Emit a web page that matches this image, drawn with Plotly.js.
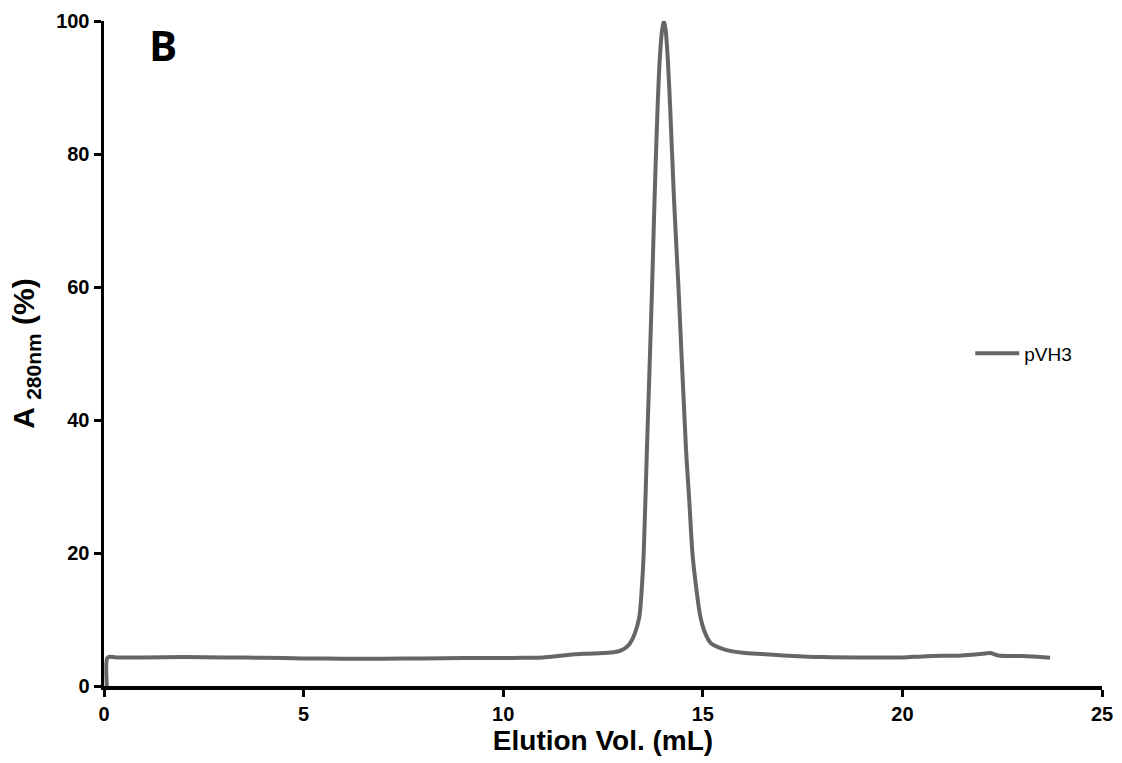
<!DOCTYPE html>
<html>
<head>
<meta charset="utf-8">
<script src="https://cdn.plot.ly/plotly-3.0.1.min.js"></script>
<style>html,body{margin:0;padding:0;background:#fff;}#chart{width:1122px;height:763px;}</style>
</head>
<body>
<div id="chart"></div>
<script>
const seriesName = "pVH3";
const elutionVol = [0.07, 0.08, 0.15, 0.3, 1, 2, 3, 4, 5, 6, 7, 8, 9, 10, 10.5, 11, 11.5, 12, 12.5, 12.8, 12.97, 13.1, 13.18, 13.3, 13.41, 13.48, 13.52, 13.60, 13.73, 13.79, 13.865, 13.92, 13.98, 14.025, 14.07, 14.125, 14.185, 14.28, 14.39, 14.58, 14.66, 14.74, 14.82, 14.94, 15.06, 15.2, 15.4, 15.6, 16.0, 16.5, 17, 18, 19, 20, 20.5, 21, 21.5, 22, 22.2, 22.4, 23, 23.7];
const absorbance = [0, 4.2, 4.4, 4.3, 4.3, 4.35, 4.3, 4.25, 4.15, 4.1, 4.1, 4.15, 4.2, 4.2, 4.25, 4.3, 4.6, 4.85, 4.95, 5.1, 5.4, 5.9, 6.45, 7.95, 10.4, 15.5, 20, 35.5, 60, 73, 86.6, 94.1, 98.6, 100, 98.6, 94.1, 86.6, 73, 60, 35.5, 28, 20, 15.5, 10.4, 7.95, 6.45, 5.8, 5.4, 5.0, 4.8, 4.6, 4.35, 4.3, 4.3, 4.45, 4.55, 4.6, 4.85, 4.95, 4.6, 4.5, 4.25];
const xTicks = [0, 5, 10, 15, 20, 25];
const yTicks = [0, 20, 40, 60, 80, 100];
const panelLabel = "B";

const trace = {
  x: elutionVol, y: absorbance, name: seriesName, type: "scatter", mode: "lines",
  line: {color: "#666666", width: 4, shape: "spline", smoothing: 0.8}
};
const fam = "Liberation Sans, Arial, sans-serif";
const axisFont = {family: fam, size: 20, color: "#000", weight: "bold"};
const layout = {
  width: 1122, height: 763,
  margin: {l: 104, r: 20, t: 21, b: 77},
  paper_bgcolor: "#fff", plot_bgcolor: "#fff",
  showlegend: true,
  legend: {x: 0.868, y: 0.5, xanchor: "left", yanchor: "middle", bgcolor: "rgba(0,0,0,0)", itemwidth: 44,
    font: {family: fam, size: 19, color: "#000"}},
  xaxis: {range: [0, 25], tickvals: xTicks, ticktext: xTicks.map(String), showgrid: false, zeroline: false,
    showline: true, linecolor: "#000", linewidth: 3.5, ticks: "outside", ticklen: 7, tickwidth: 3, tickcolor: "#000",
    tickfont: axisFont,
    title: {text: "Elution Vol. (mL)", font: {family: fam, size: 28, color: "#000", weight: "bold"}, standoff: 8}},
  yaxis: {range: [0, 100], tickvals: yTicks, ticktext: yTicks.map(String), showgrid: false, zeroline: false,
    showline: true, linecolor: "#000", linewidth: 3.5, ticks: "outside", ticklen: 7, tickwidth: 3, tickcolor: "#000",
    tickfont: axisFont,
    title: {text: "A <sub>280nm</sub> (%)", font: {family: fam, size: 30, color: "#000", weight: "bold"}, standoff: 13}},
  annotations: [{text: panelLabel, xref: "paper", yref: "paper", x: 0.059, y: 0.965, xanchor: "center", yanchor: "middle",
    showarrow: false, font: {family: "Open Sans, sans-serif", size: 42, color: "#000", weight: "bold"}}]
};
Plotly.newPlot("chart", [trace], layout, {displayModeBar: false, staticPlot: true});
</script>
</body>
</html>
